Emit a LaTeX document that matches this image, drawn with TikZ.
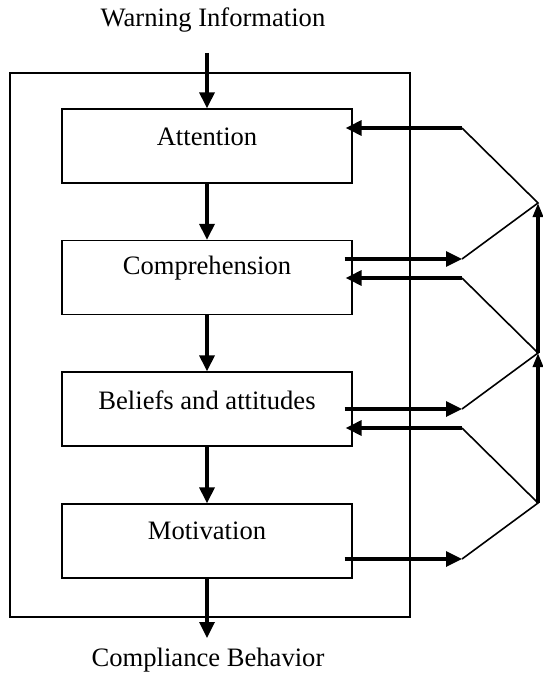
\documentclass[tikz,border=0pt]{standalone}
\usepackage{fontspec}
\setmainfont{Liberation Serif}
\usetikzlibrary{arrows.meta,calc}
\begin{document}
\begin{tikzpicture}[x=1pt,y=-1pt,
  txt/.style={font=\fontsize{26.6}{32}\selectfont, inner sep=0pt},
  stagebox/.style={draw, line width=1.3pt, minimum width=290pt, minimum height=74pt, inner sep=0pt},
  frame/.style={draw, line width=1.3pt, minimum width=400pt, minimum height=544pt, inner sep=0pt},
  thickarrow/.style={line width=3.3pt, -{Triangle[length=16pt,width=15pt]}},
  upline/.style={line width=3.3pt, -{Triangle[length=14pt,width=10pt]}},
  thinline/.style={line width=1.6pt}]
\useasboundingbox (0,0) rectangle (542,674);
\node[frame] (fr) at (210,345) {};
\node[txt] (warn) at (213,20) {Warning Information};
\node[txt] (comply) at (208,660) {Compliance Behavior};
\node[stagebox] (att) at (207,146) {};
\node[txt] (attt) at (207,137) {Attention};
\node[stagebox] (comp) at (207,277.5) {};
\node[txt] (compt) at (207,268) {Comprehension};
\node[stagebox] (bel) at (207,409) {};
\node[txt] (belt) at (207,400) {Beliefs and attitudes};
\node[stagebox] (mot) at (207,541) {};
\node[txt] (mott) at (207,531) {Motivation};
\coordinate (w) at (207,53);
\coordinate (c) at (207,638);
\coordinate (j1) at (462,128);
\coordinate (a1) at (538,203);
\coordinate (j2) at (462,259);
\coordinate (j3) at (462,278);
\coordinate (a2) at (538,353);
\coordinate (j4) at (462,409);
\coordinate (j5) at (462,428);
\coordinate (a3) at (538,503);
\coordinate (j6) at (462,559);
\draw[thickarrow] (w) -- (att.north);
\draw[thickarrow] (att.south) -- (comp.north);
\draw[thickarrow] (comp.south) -- (bel.north);
\draw[thickarrow] (bel.south) -- (mot.north);
\draw[thickarrow] (mot.south) -- (c);
% feedback
\draw[thickarrow] (j1) -- ([xshift=-7pt]j1 -| att.east);
\draw[thickarrow] ([xshift=-8pt]j2 -| comp.east) -- (j2);
\draw[thickarrow] (j3) -- ([xshift=-7pt]j3 -| comp.east);
\draw[thickarrow] ([xshift=-8pt]j4 -| bel.east) -- (j4);
\draw[thickarrow] (j5) -- ([xshift=-7pt]j5 -| bel.east);
\draw[thickarrow] ([xshift=-8pt]j6 -| mot.east) -- (j6);
\draw[thinline] (j1) -- (a1) -- (j2);
\draw[thinline] (j3) -- (a2) -- (j4);
\draw[thinline] (j5) -- (a3) -- (j6);
\draw[upline] (a3) -- (a2);
\draw[upline] (a2) -- (a1);
\end{tikzpicture}
\end{document}
